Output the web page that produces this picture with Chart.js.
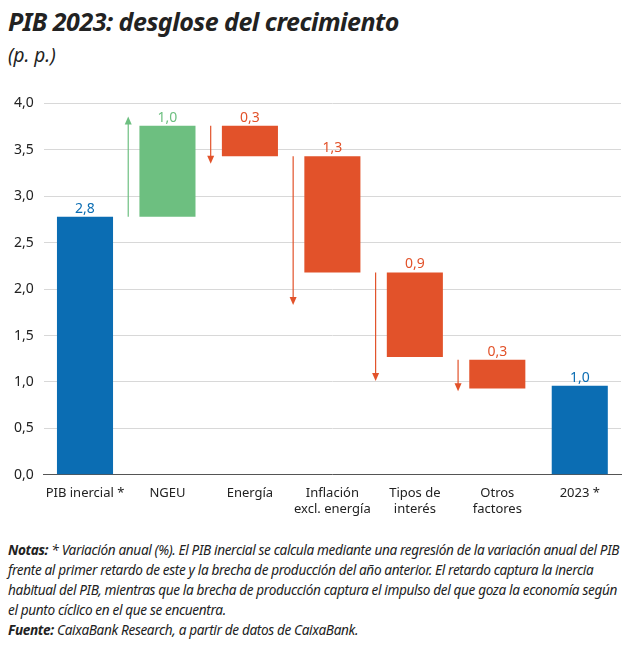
<!DOCTYPE html>
<html><head><meta charset="utf-8">
<script src="https://cdn.jsdelivr.net/npm/chart.js@4"></script>
<style>
body{margin:0;width:631px;height:655px;background:#fff;font-family:"Noto Sans",sans-serif;color:#222;position:relative;overflow:hidden}
#t{position:absolute;left:8px;top:4px;font-size:25px;font-weight:bold;font-style:italic;letter-spacing:-0.5px}
#u{position:absolute;left:8px;top:42px;font-size:19px;font-style:italic}
#c{position:absolute;left:0;top:85px;width:631px;height:435px}
#n{position:absolute;left:8px;top:540px;width:612px;font-size:13.6px;font-style:italic;line-height:20px;letter-spacing:-0.35px}
</style></head><body>
<div id="t">PIB 2023: desglose del crecimiento</div>
<div id="u">(p. p.)</div>
<div id="c"><canvas id="cv"></canvas></div>
<div id="n"><b>Notas:</b> * Variación anual (%). El PIB inercial se calcula mediante una regresión de la variación anual del PIB frente al primer retardo de este y la brecha de producción del año anterior. El retardo captura la inercia habitual del PIB, mientras que la brecha de producción captura el impulso del que goza la economía según el punto cíclico en el que se encuentra.<br><b>Fuente:</b> CaixaBank Research, a partir de datos de CaixaBank.</div>
<script>
const categories=[["PIB inercial *"],["NGEU"],["Energía"],["Inflación","excl. energía"],["Tipos de","interés"],["Otros","factores"],["2023 *"]];
const barStart=[0,2.78,3.76,3.43,2.18,1.24,0];
const barEnd=[2.78,3.76,3.43,2.18,1.27,0.93,0.96];
const valueLabels=["2,8","1,0","0,3","1,3","0,9","0,3","1,0"];
const arrowFrom=[null,2.78,3.76,3.43,2.18,1.24,null];
const arrowTo=[null,3.86,3.35,1.83,1.01,0.9,null];
const yTicks=[0,0.5,1,1.5,2,2.5,3,3.5,4];
const colors=["#0b6db3","#6dbf80","#e2522a","#e2522a","#e2522a","#e2522a","#0b6db3"];
const plug={id:'ann',afterDatasetsDraw(ch){
 const c=ch.ctx,x=ch.scales.x,y=ch.scales.y,meta=ch.getDatasetMeta(0);
 c.save();c.font='14px "Noto Sans"';c.textAlign='center';c.textBaseline='bottom';
 meta.data.forEach((b,i)=>{c.fillStyle=colors[i];const top=y.getPixelForValue(Math.max(barStart[i],barEnd[i]));c.fillText(valueLabels[i],b.x,top-1);
  if(arrowFrom[i]!=null){const ax=(x.getPixelForValue(i)+x.getPixelForValue(i-1))/2+2;const y0=y.getPixelForValue(arrowFrom[i]),y1=y.getPixelForValue(arrowTo[i]);const d=y1>y0?1:-1;
   c.strokeStyle=colors[i];c.lineWidth=1.2;c.beginPath();c.moveTo(ax,y0);c.lineTo(ax,y1-d*5);c.stroke();
   c.beginPath();c.moveTo(ax,y1);c.lineTo(ax-3.5,y1-d*8);c.lineTo(ax+3.5,y1-d*8);c.closePath();c.fill();}
 });c.restore();}};
new Chart(document.getElementById('cv'),{type:'bar',
data:{labels:categories,datasets:[{data:barStart.map((s,i)=>[s,barEnd[i]]),backgroundColor:colors,barPercentage:0.68,categoryPercentage:1}]},
options:{responsive:true,maintainAspectRatio:false,animation:false,layout:{padding:{left:4,right:10,top:8}},
plugins:{legend:{display:false},tooltip:{enabled:false}},
scales:{x:{grid:{display:false},border:{color:'#555'},ticks:{color:'#222',autoSkip:false,font:{size:13,family:'Noto Sans'},maxRotation:0}},
y:{min:0,max:4,afterBuildTicks:a=>{a.ticks=yTicks.map(v=>({value:v}))},grid:{color:'#d8d8d8',drawTicks:false},border:{display:false},ticks:{color:'#222',padding:10,font:{size:14,family:'Noto Sans'},callback:v=>v.toFixed(1).replace('.',',')}}}},
plugins:[plug]});
</script></body></html>
